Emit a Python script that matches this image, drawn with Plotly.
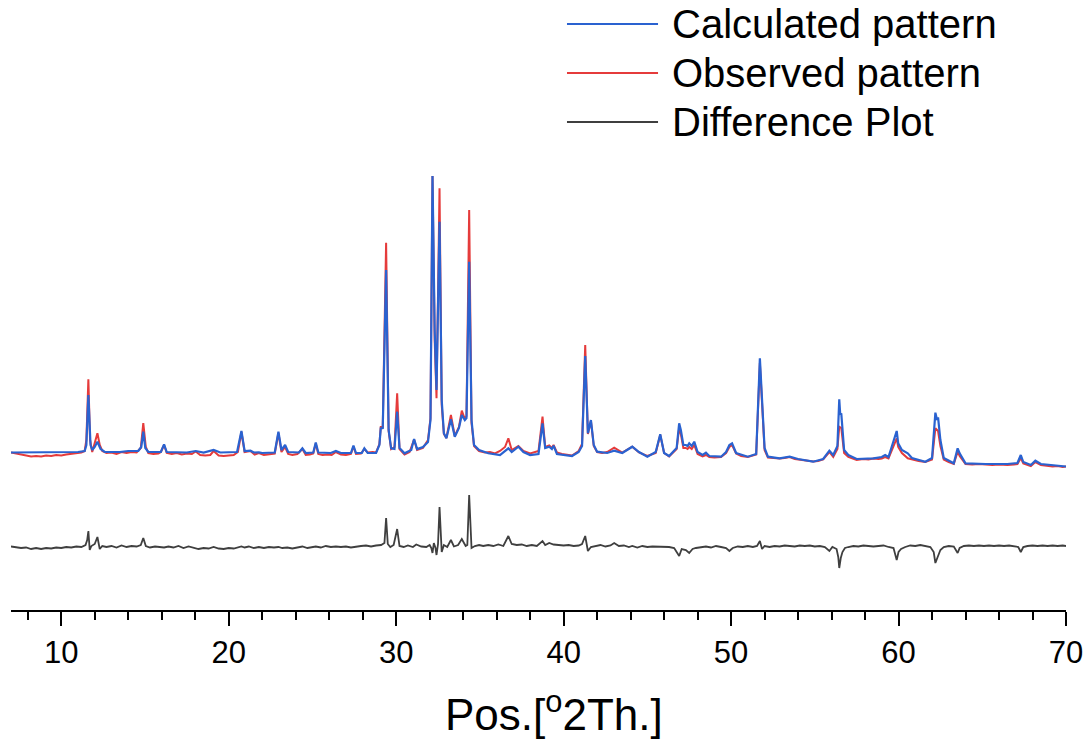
import plotly.graph_objects as go

# ---- XRD refinement data (2theta in degrees, intensity in counts) ----
calc_2theta = [
    7.0, 8.0, 9.0, 10.0, 11.0, 11.4, 11.5, 11.62, 11.75, 11.85, 12.0, 12.16, 12.35, 12.6,
    13.5, 14.0, 14.6, 14.78, 14.9, 15.02, 15.2, 15.95, 16.14, 16.3, 17.5, 18.03, 18.5,
    19.1, 19.5, 20.5, 20.76, 20.95, 21.3, 21.5, 21.8, 22.0, 22.75, 22.97, 23.15, 23.37,
    23.55, 24.2, 24.4, 24.6, 25.05, 25.2, 25.35, 26.1, 26.4, 26.7, 27.3, 27.45, 27.6,
    27.95, 28.1, 28.3, 28.8, 29.0, 29.08, 29.2, 29.4, 29.55, 29.7, 29.9, 30.06, 30.2,
    30.5, 30.9, 31.07, 31.25, 31.6, 31.9, 32.05, 32.17, 32.3, 32.41, 32.59, 32.72, 32.85,
    33.0, 33.27, 33.5, 33.75, 33.92, 34.1, 34.2, 34.36, 34.5, 34.65, 34.95, 35.5, 36.2,
    36.7, 36.9, 37.3, 37.6, 38.0, 38.5, 38.74, 38.9, 39.14, 39.3, 39.4, 39.6, 40.5, 40.9,
    41.1, 41.29, 41.45, 41.63, 41.8, 42.0, 42.6, 43.02, 43.5, 44.1, 44.5, 45.0, 45.5,
    45.77, 46.0, 46.3, 46.75, 46.9, 47.0, 47.15, 47.3, 47.4, 47.5, 47.65, 47.8, 48.0,
    48.3, 48.5, 48.7, 49.4, 49.7, 49.9, 50.06, 50.3, 51.0, 51.5, 51.72, 51.84, 52.0,
    52.2, 52.9, 53.5, 54.0, 54.9, 55.5, 55.87, 56.1, 56.35, 56.46, 56.52, 56.58, 56.75,
    57.0, 57.5, 58.5, 59.0, 59.2, 59.4, 59.89, 59.98, 60.2, 60.55, 60.8, 61.6, 62.0,
    62.2, 62.3, 62.36, 62.5, 62.7, 63.0, 63.3, 63.53, 63.65, 64.0, 65.2, 66.5, 67.1,
    67.3, 67.45, 67.9, 68.17, 68.5, 69.5, 70.0,
]
calc_counts = [
    175, 175, 175, 175, 180, 190, 250, 750, 250, 200, 230, 283, 210, 180,
    180, 190, 190, 230, 383, 220, 180, 180, 257, 180, 175, 190, 175,
    200, 175, 180, 390, 190, 193, 175, 177, 170, 175, 383, 200, 250,
    180, 175, 217, 170, 175, 275, 175, 170, 190, 170, 170, 245, 170,
    170, 217, 170, 170, 250, 417, 420, 2000, 400, 217, 210, 583, 220,
    167, 200, 310, 210, 230, 280, 500, 2940, 1400, 800, 2483, 700, 367,
    317, 507, 333, 420, 550, 500, 520, 2083, 500, 250, 200, 167, 150,
    217, 180, 233, 180, 150, 160, 467, 220, 233, 210, 243, 160, 140, 180,
    240, 1140, 367, 500, 250, 183, 170, 193, 170, 233, 180, 133, 180,
    357, 170, 140, 220, 467, 400, 250, 250, 240, 267, 240, 283, 180,
    150, 173, 140, 133, 180, 250, 267, 170, 133, 160, 1117, 733, 220,
    133, 117, 133, 110, 83, 110, 193, 150, 240, 707, 550, 567, 200,
    150, 110, 117, 130, 150, 130, 390, 267, 200, 167, 120, 83, 120,
    573, 500, 527, 300, 120, 90, 67, 217, 167, 67, 60, 60, 70,
    150, 80, 50, 93, 60, 40, 35,
]

obs_2theta = [
    7.0, 7.3, 7.6, 7.9, 8.2, 8.5, 8.8, 9.1, 9.4, 9.7, 10.0, 10.3, 10.6, 10.9, 11.2, 11.4,
    11.5, 11.62, 11.72, 11.85, 12.0, 12.16, 12.3, 12.45, 12.7, 13.0, 13.3, 13.6, 13.9,
    14.2, 14.5, 14.75, 14.9, 15.05, 15.2, 15.5, 15.8, 15.95, 16.14, 16.3, 16.6, 16.9,
    17.2, 17.5, 17.8, 18.03, 18.3, 18.6, 18.9, 19.1, 19.4, 19.7, 20.0, 20.3, 20.55,
    20.76, 20.95, 21.3, 21.55, 21.8, 22.1, 22.4, 22.75, 22.97, 23.15, 23.37, 23.55,
    23.8, 24.1, 24.4, 24.6, 24.85, 25.05, 25.2, 25.35, 25.6, 25.9, 26.15, 26.4, 26.7,
    27.0, 27.3, 27.45, 27.6, 27.9, 28.1, 28.3, 28.6, 28.8, 29.0, 29.08, 29.2, 29.4,
    29.55, 29.7, 29.9, 30.06, 30.2, 30.5, 30.8, 31.07, 31.25, 31.6, 31.9, 32.05, 32.17,
    32.3, 32.41, 32.59, 32.72, 32.85, 33.0, 33.27, 33.5, 33.75, 33.92, 34.1, 34.2, 34.36,
    34.5, 34.65, 34.95, 35.3, 35.6, 35.9, 36.2, 36.5, 36.7, 36.9, 37.3, 37.6, 38.0,
    38.3, 38.5, 38.74, 38.9, 39.14, 39.3, 39.4, 39.6, 39.9, 40.2, 40.5, 40.9, 41.1,
    41.29, 41.45, 41.63, 41.8, 42.0, 42.3, 42.6, 43.02, 43.5, 43.8, 44.1, 44.5, 44.8,
    45.0, 45.5, 45.77, 46.0, 46.3, 46.75, 46.9, 47.0, 47.15, 47.3, 47.4, 47.5, 47.65,
    47.8, 48.0, 48.3, 48.5, 48.7, 49.0, 49.4, 49.7, 49.9, 50.06, 50.3, 50.6, 51.0,
    51.5, 51.72, 51.84, 52.0, 52.2, 52.5, 52.9, 53.2, 53.5, 53.8, 54.0, 54.4, 54.9,
    55.2, 55.5, 55.87, 56.1, 56.35, 56.46, 56.58, 56.75, 57.0, 57.3, 57.5, 57.9, 58.2,
    58.5, 58.8, 59.0, 59.2, 59.4, 59.89, 59.98, 60.2, 60.55, 60.8, 61.2, 61.6, 62.0,
    62.2, 62.36, 62.5, 62.7, 63.0, 63.3, 63.53, 63.65, 64.0, 64.4, 64.8, 65.2, 65.6,
    66.0, 66.5, 66.9, 67.1, 67.3, 67.45, 67.9, 68.17, 68.5, 68.9, 69.2, 69.5, 69.8, 70.0,
]
obs_counts = [
    175, 165, 150, 145, 135, 140, 135, 145, 140, 150, 145, 155, 160, 165, 175, 190,
    300, 907, 300, 180, 270, 367, 250, 190, 170, 175, 160, 180, 170,
    180, 175, 220, 470, 230, 170, 160, 165, 180, 250, 170, 160, 170,
    155, 165, 160, 185, 150, 145, 150, 190, 145, 140, 145, 150, 180,
    380, 180, 190, 155, 170, 150, 160, 165, 370, 180, 230, 160,
    150, 160, 210, 150, 155, 165, 265, 160, 150, 155, 150, 180, 155,
    150, 160, 235, 160, 165, 210, 175, 180, 175, 260, 430, 430, 2273,
    390, 210, 230, 767, 210, 155, 180, 305, 200, 220, 300, 520, 2940,
    1300, 717, 2817, 650, 360, 320, 550, 340, 430, 593, 510, 540, 2600,
    470, 240, 190, 175, 180, 165, 190, 230, 317, 200, 240, 190, 165,
    180, 190, 533, 230, 245, 220, 250, 175, 160, 150, 145, 190, 260,
    1250, 360, 490, 240, 180, 170, 180, 223, 175, 200, 233, 175, 150,
    140, 170, 350, 170, 135, 210, 420, 360, 220, 220, 210, 230, 210,
    250, 160, 135, 150, 130, 125, 130, 170, 230, 250, 165, 140, 130,
    155, 1070, 710, 200, 125, 120, 115, 120, 130, 110, 105, 100, 85,
    90, 105, 180, 130, 210, 433, 420, 170, 130, 115, 100, 110, 105,
    115, 110, 115, 130, 115, 317, 230, 170, 117, 105, 90, 80, 105,
    417, 390, 240, 105, 80, 60, 183, 140, 60, 55, 60, 55, 50,
    55, 50, 55, 60, 120, 65, 40, 80, 50, 45, 35, 40, 30, 35,
]

diff_2theta = [
    7.0, 7.3, 7.6, 7.9, 8.2, 8.5, 8.8, 9.1, 9.4, 9.7, 10.0, 10.3, 10.6, 10.9, 11.2, 11.45,
    11.55, 11.62, 11.7, 11.8, 12.0, 12.16, 12.3, 12.45, 12.7, 13.0, 13.3, 13.6, 13.9,
    14.2, 14.5, 14.75, 14.9, 15.05, 15.3, 15.6, 15.9, 16.14, 16.4, 16.7, 17.0, 17.3,
    17.6, 17.9, 18.2, 18.5, 18.8, 19.1, 19.4, 19.7, 20.0, 20.3, 20.6, 20.76, 20.95,
    21.2, 21.5, 21.8, 22.1, 22.4, 22.7, 22.97, 23.2, 23.5, 23.8, 24.1, 24.4, 24.7,
    25.0, 25.2, 25.5, 25.8, 26.1, 26.4, 26.7, 27.0, 27.3, 27.6, 27.9, 28.2, 28.5,
    28.8, 29.1, 29.3, 29.4, 29.5, 29.65, 29.85, 30.06, 30.2, 30.45, 30.7, 31.0, 31.2,
    31.5, 31.8, 32.0, 32.1, 32.17, 32.25, 32.35, 32.41, 32.5, 32.59, 32.72, 32.85,
    33.05, 33.27, 33.45, 33.7, 33.92, 34.15, 34.25, 34.36, 34.5, 34.7, 34.95, 35.2,
    35.5, 35.8, 36.1, 36.4, 36.7, 36.9, 37.2, 37.5, 37.8, 38.1, 38.4, 38.74, 38.9,
    39.14, 39.4, 39.7, 40.0, 40.3, 40.6, 40.9, 41.1, 41.29, 41.45, 41.63, 41.9, 42.2,
    42.5, 42.8, 43.02, 43.3, 43.6, 43.9, 44.1, 44.4, 44.7, 45.0, 45.3, 45.77, 46.0,
    46.3, 46.6, 46.9, 47.05, 47.3, 47.5, 47.7, 47.9, 48.2, 48.5, 48.8, 49.1, 49.4,
    49.7, 49.9, 50.1, 50.4, 50.7, 51.0, 51.3, 51.55, 51.72, 51.85, 52.0, 52.3, 52.6,
    52.9, 53.2, 53.5, 53.8, 54.1, 54.4, 54.7, 55.0, 55.3, 55.6, 55.87, 56.05, 56.3,
    56.4, 56.46, 56.55, 56.65, 56.8, 57.0, 57.3, 57.6, 57.9, 58.2, 58.5, 58.8, 59.1,
    59.4, 59.7, 59.89, 60.0, 60.15, 60.4, 60.7, 61.0, 61.3, 61.6, 61.9, 62.1, 62.2,
    62.36, 62.5, 62.7, 63.0, 63.3, 63.53, 63.65, 63.9, 64.2, 64.5, 64.8, 65.1, 65.4,
    65.7, 66.0, 66.3, 66.6, 66.9, 67.15, 67.3, 67.45, 67.7, 68.0, 68.3, 68.6, 68.9,
    69.2, 69.5, 69.8, 70.0,
]
diff_counts = [
    -5, -10, -20, -15, -30, -20, -30, -20, -25, -15, -20, -10, -15, -5, -10, 10,
    60, 150, -40, 0, 20, 90, -30, 0, -10, 0, -15, 5, -10,
    0, -5, 10, 80, 0, -15, -5, -10, -15, -5, -15, 0, -20,
    -5, -15, -30, -20, -25, -10, -25, -30, -20, -25, -10, -5, -15,
    -5, -20, -10, -20, -10, -15, -10, -20, -15, -25, -15, -5, -20,
    -15, -5, -15, 0, -10, -5, -10, -5, -15, -5, 0, 5, -5,
    5, 10, 30, 280, 20, -10, 10, 170, 0, -10, 5, -10, 15,
    -5, -10, 10, -20, -70, 30, -20, -90, 20, 390, -60, 10,
    -10, 60, -5, 10, 70, 0, 10, 510, -20, 0, 10, 0,
    10, 0, 15, 0, 100, 20, 10, 15, 0, 10, 0, 50, 10,
    30, 15, 10, 5, 10, 0, 5, 20, 100, -50, -10, 0, 10,
    -5, 5, 30, 0, 5, -10, 0, -15, 0, -10, -5, -10, -5,
    -10, -20, -100, -30, -40, -70, -30, -20, -10, -5, -15, 0, -10,
    -20, -50, -20, -5, -10, 0, -10, 0, 50, -30, 0, -10, 0,
    -5, 5, 0, -5, 5, 0, 5, -5, 0, -10, -50, -10, -30,
    -110, -220, -120, -60, -20, -10, 0, -5, 5, 0, -5, 0, 5,
    -10, -20, -140, -60, -30, -10, 5, 0, 10, 0, -10, -60, -170,
    -100, -40, -10, 0, -5, -70, -20, 0, 5, 0, 5, 0, 5,
    0, 5, 0, 5, 0, -10, -60, -10, 0, 5, 0, 5, 0,
    5, 0, 5, 0,
]

# vertical shift applied to the difference curve so it sits below the patterns
DIFF_OFFSET = -760

SERIES_NAMES = ["Calculated pattern", "Observed pattern", "Difference Plot"]
SERIES_COLORS = ["#2a62d0", "#e53b3b", "#3f3f3f"]

FONT = "Liberation Sans, Arial, Helvetica, sans-serif"

fig = go.Figure()
fig.add_trace(go.Scatter(
    x=obs_2theta, y=obs_counts, mode="lines", name=SERIES_NAMES[1],
    line=dict(color=SERIES_COLORS[1], width=2.0), showlegend=False,
))
fig.add_trace(go.Scatter(
    x=calc_2theta, y=calc_counts, mode="lines", name=SERIES_NAMES[0],
    line=dict(color=SERIES_COLORS[0], width=2.2), showlegend=False,
))
fig.add_trace(go.Scatter(
    x=diff_2theta, y=[v + DIFF_OFFSET for v in diff_counts], mode="lines",
    name=SERIES_NAMES[2], line=dict(color=SERIES_COLORS[2], width=1.8),
    showlegend=False,
))

# legend with long sample lines, top right
legend_rows_y = [0.9607, 0.8803, 0.8]
for name, color, ypos in zip(SERIES_NAMES, SERIES_COLORS, legend_rows_y):
    fig.add_shape(type="line", xref="paper", yref="paper",
                  x0=0.527, x1=0.6133, y0=ypos, y1=ypos,
                  line=dict(color=color, width=2))
    fig.add_annotation(xref="paper", yref="paper", x=0.6246, y=ypos,
                       xanchor="left", yanchor="middle", showarrow=False,
                       text=name, font=dict(family=FONT, size=40, color="#000000"))

# x-axis title
fig.add_annotation(xref="paper", yref="paper", x=0.5147, y=-0.166,
                   xanchor="center", yanchor="middle", showarrow=False,
                   text="Pos.[<sup>o</sup>2Th.]",
                   font=dict(family=FONT, size=44, color="#000000"))

fig.update_layout(
    width=1090, height=739,
    margin=dict(l=11, r=24, t=0, b=129),
    paper_bgcolor="white", plot_bgcolor="white",
    showlegend=False,
    font=dict(family=FONT, color="#000000"),
    xaxis=dict(
        range=[7, 70], showgrid=False, zeroline=False,
        showline=True, linecolor="#000000", linewidth=2,
        ticks="outside", ticklen=14, tickwidth=2, tickcolor="#000000",
        tick0=0, dtick=10,
        tickfont=dict(family=FONT, size=31, color="#000000"),
        minor=dict(ticks="outside", ticklen=8, tickwidth=2, tickcolor="#000000",
                   tick0=0, dtick=2, showgrid=False),
    ),
    yaxis=dict(range=[-1400, 4700], visible=False, showgrid=False, zeroline=False),
)

fig.write_html("out.html")
